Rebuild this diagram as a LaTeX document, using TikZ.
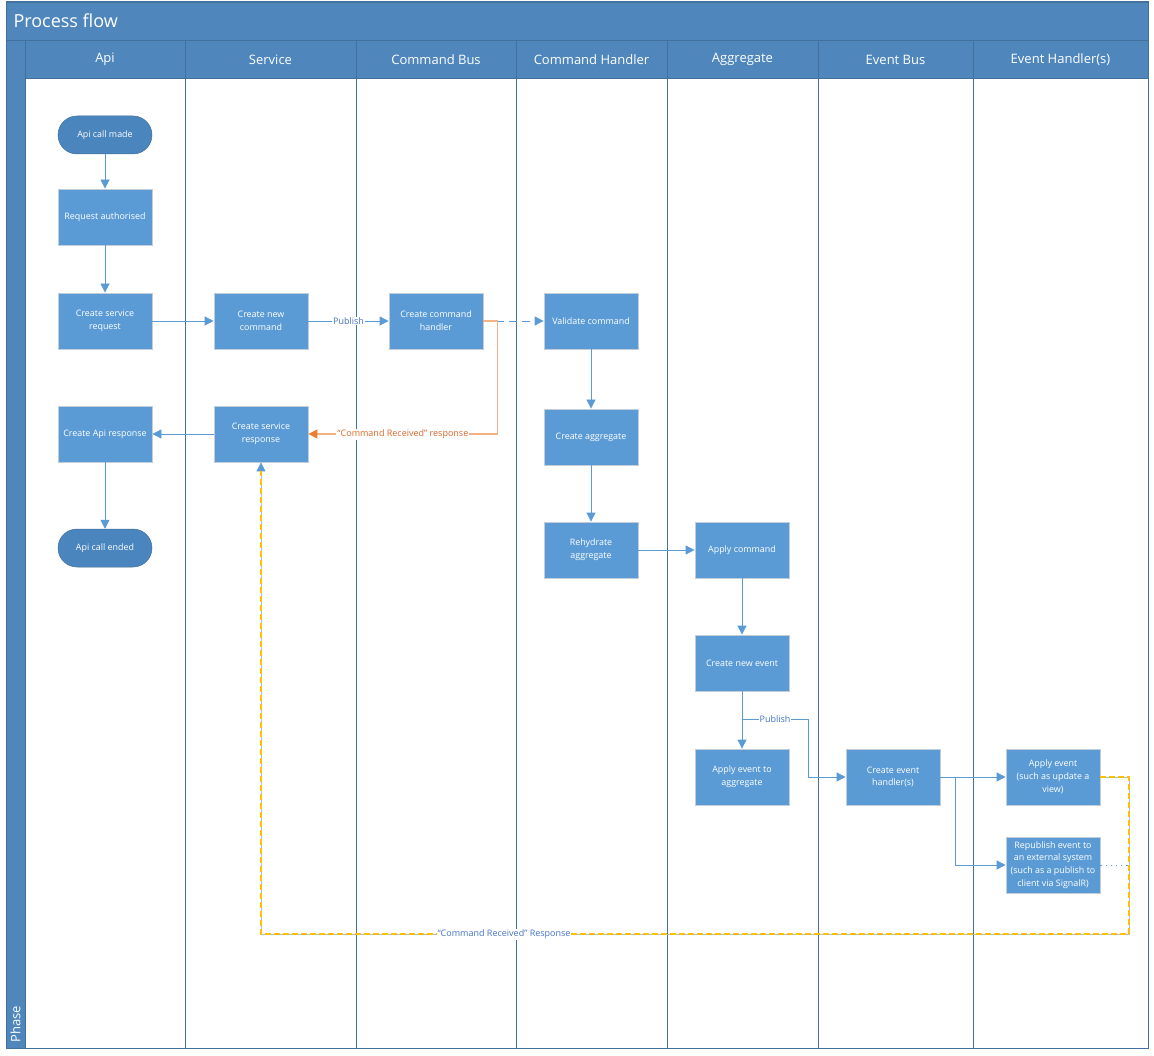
\documentclass[tikz,border=0pt]{standalone}
\usepackage{fontspec}
\setmainfont{Open Sans}
\usepackage{tikz}
\usetikzlibrary{arrows.meta}

\definecolor{azulcab}{RGB}{79,135,189}
\definecolor{azulborde}{RGB}{65,113,156}
\definecolor{azulcaja}{RGB}{91,155,213}
\definecolor{azulterm}{RGB}{74,133,189}
\definecolor{azullinea}{RGB}{91,155,213}
\definecolor{azultexto}{RGB}{68,114,196}
\definecolor{naranja}{RGB}{237,125,49}
\definecolor{naranjaclaro}{RGB}{244,177,131}
\definecolor{textonaranja}{RGB}{214,102,40}
\definecolor{amarillo}{RGB}{255,192,0}
\definecolor{grisborde}{RGB}{195,205,215}

\begin{document}
\begin{tikzpicture}[x=1pt, y=-1pt,
		caja/.style={rectangle, draw=grisborde, line width=0.8pt, fill=azulcaja, text=white,
				minimum width=94pt, minimum height=56pt, inner sep=2pt, align=center,
				font=\fontsize{8.9}{12.8}\selectfont},
		terminal/.style={caja, draw=azulborde, line width=0.5pt, fill=azulterm,
				minimum height=38pt, rounded corners=19pt},
		cabecera/.style={text=white, font=\fontsize{13}{15}\selectfont},
		flujo/.style={draw=azullinea, line width=0.8pt, -{Triangle[length=9pt,width=9pt]}},
		etiqueta/.style={fill=white, inner sep=1pt, text=azultexto, font=\fontsize{9}{11}\selectfont},
		respuesta/.style={draw=amarillo, line width=1.4pt, dash pattern=on 6pt off 3pt, shorten >=9pt,
				preaction={draw=azullinea!60, solid, line width=0.6pt, shorten >=0pt,
						-{Triangle[length=9pt,width=9pt,color=azullinea]}}}]
	\useasboundingbox (0,0) rectangle (1154,1056);

	% Marco y titulo
	\draw[draw=azulborde, fill=azulcab, line width=0.8pt] (6,2) rectangle (1148,40);
	\node[anchor=west, text=white, font=\fontsize{18}{21}\selectfont] (titulo) at (10,21) {Process flow};
	\draw[draw=azulborde, fill=azulcab, line width=0.8pt] (6,40) rectangle (25,1048);
	\node[cabecera, rotate=90, anchor=west] (fase) at (15.5,1046) {Phase};

	% Carriles
	\foreach \xa/\xb/\nombre [count=\i] in {25/185/Api, 185/356/Service, 356/516/Command Bus,
			516/667/Command Handler, 667/818/Aggregate, 818/973/Event Bus, 973/1148/Event Handler(s)}
		{
			\draw[draw=azulborde, fill=azulcab, line width=0.8pt] (\xa,40) rectangle (\xb,78);
			\node[cabecera] (carril\i) at ({(\xa+\xb)/2},59.5) {\nombre};
			\draw[azulborde, line width=0.8pt] (\xb,78) -- (\xb,1048);
		}
	\draw[azulborde, line width=1pt] (6,2) rectangle (1148,1048);

	% Pasos
	\node[terminal] (inicio) at (105,135) {Api call made};
	\node[caja] (autorizado) at (105,217) {Request authorised};
	\node[caja] (solicitud) at (105,321) {Create service\\request};
	\node[caja] (nuevocmd) at (261,321) {Create new\\command};
	\node[caja] (manejador) at (436,321) {Create command\\handler};
	\node[caja] (validar) at (591,321) {Validate command};
	\node[caja] (respapi) at (105,434) {Create Api response};
	\node[caja] (respserv) at (261,434) {Create service\\response};
	\node[caja] (agregado) at (591,437) {Create aggregate};
	\node[terminal] (fin) at (105,548) {Api call ended};
	\node[caja] (rehidratar) at (591,550) {Rehydrate\\aggregate};
	\node[caja] (aplicarcmd) at (742,550) {Apply command};
	\node[caja] (nuevoevento) at (742,663) {Create new event};
	\node[caja] (aplicarevag) at (742,777) {Apply event to\\aggregate};
	\node[caja] (manejadorev) at (893,777) {Create event\\handler(s)};
	\node[caja] (aplicarev) at (1053,777) {Apply event\\(such as update a\\view)};
	\node[caja] (republicar) at (1053,865) {Republish event to\\an external system\\(such as a publish to\\client via SignalR)};

	\coordinate (retorno) at (1129,934);
	\coordinate (enlace) at (1129,865);

	% Flechas
	\draw[flujo] (inicio) -- (autorizado);
	\draw[flujo] (autorizado) -- (solicitud);
	\draw[flujo] (solicitud) -- (nuevocmd);
	\draw[flujo] (nuevocmd) -- node[etiqueta] {Publish} (manejador);
	\draw[flujo, dash pattern=on 8pt off 5pt] (manejador) -- (validar);
	\draw[flujo] (validar) -- (agregado);
	\draw[flujo] (agregado) -- (rehidratar);
	\draw[flujo] (rehidratar) -- (aplicarcmd);
	\draw[flujo] (aplicarcmd) -- (nuevoevento);
	\draw[flujo] (nuevoevento) -- (aplicarevag);
	\draw[flujo] (nuevoevento.south) -- ++(0,28) -- ++(66,0) node[midway, etiqueta] {Publish} |- (manejadorev.west);
	\draw[flujo] (manejadorev) -- (aplicarev);
	\draw[flujo] (manejadorev.east) -- ++(15,0) |- (republicar.west);
	\draw[flujo] (respserv) -- (respapi);
	\draw[flujo] (respapi) -- (fin);

	% Respuestas
	\draw[naranjaclaro, line width=1.1pt, -{Triangle[length=9pt,width=9pt,color=naranja]}]
	(manejador.east) -- ++(14,0) |- node[pos=0.75, etiqueta, text=textonaranja] {“Command Received” response} (respserv.east);
	\draw[respuesta] (aplicarev.east) -| (retorno) -| node[pos=0.36, etiqueta] {“Command Received” Response} (respserv.south);
	\draw[azullinea, line width=0.9pt, dash pattern=on 1.2pt off 4pt] (republicar.east) -- (enlace);

\end{tikzpicture}
\end{document}
